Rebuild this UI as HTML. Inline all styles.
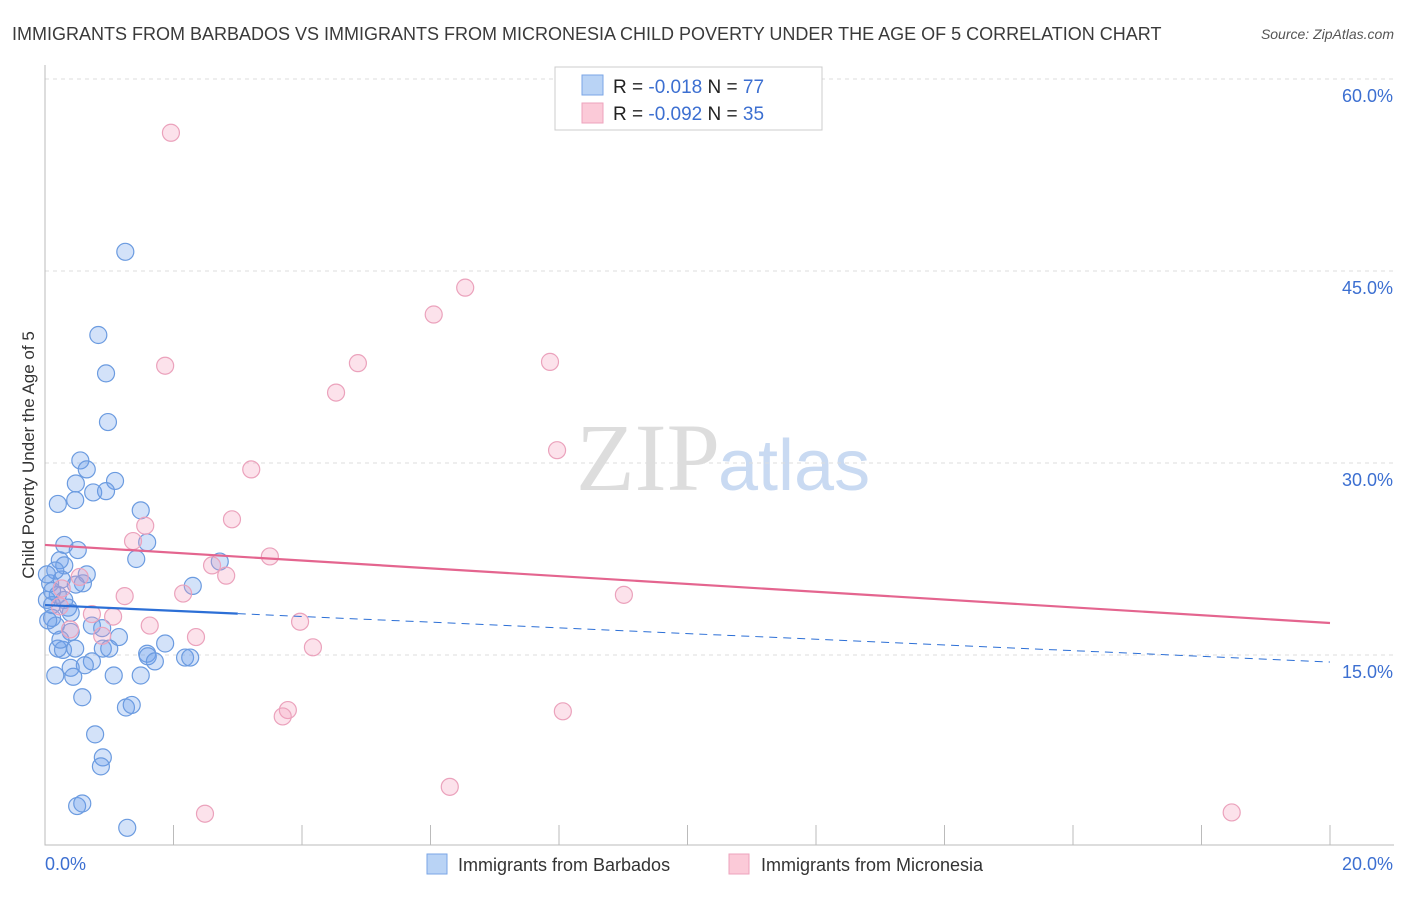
<!DOCTYPE html>
<html><head><meta charset="utf-8"><style>
body{margin:0;background:#fff;font-family:"Liberation Sans",sans-serif}
</style></head><body>
<svg width="1406" height="892" xmlns="http://www.w3.org/2000/svg">
<text x="12" y="40" font-size="18" fill="#3a3a3a">IMMIGRANTS FROM BARBADOS VS IMMIGRANTS FROM MICRONESIA CHILD POVERTY UNDER THE AGE OF 5 CORRELATION CHART</text>
<text x="1394" y="39" font-size="14" font-style="italic" fill="#555" text-anchor="end">Source: ZipAtlas.com</text>
<text x="720" y="490" font-size="96" font-family="Liberation Serif,serif" fill="#ddd" text-anchor="end">ZIP</text>
<text x="718" y="490" font-size="72" fill="#c9daf2">atlas</text>
<g id="grid"></g>
<g id="axes"></g>
<g id="marks"></g>
<text x="34" y="455" font-size="17" fill="#333" text-anchor="middle" transform="rotate(-90 34 455)">Child Poverty Under the Age of 5</text>
<g>
<rect x="555" y="67" width="267" height="63" fill="#fff" stroke="#ccc"/>
<rect x="582" y="75" width="21" height="20" fill="#b9d3f5" stroke="#7aa6e6"/>
<rect x="582" y="103" width="21" height="20" fill="#fbcad8" stroke="#eea3bd"/>
<text x="613" y="93" font-size="19" fill="#222">R =  <tspan fill="#3c6fd1">-0.018</tspan>   N = <tspan fill="#3c6fd1">77</tspan></text>
<text x="613" y="120" font-size="19" fill="#222">R = <tspan fill="#3c6fd1">-0.092</tspan>   N = <tspan fill="#3c6fd1">35</tspan></text>
</g>
<g>
<rect x="427" y="854" width="20" height="20" fill="#b9d3f5" stroke="#7aa6e6"/>
<text x="458" y="871" font-size="18" fill="#333">Immigrants from Barbados</text>
<rect x="729" y="854" width="20" height="20" fill="#fbcad8" stroke="#eea3bd"/>
<text x="761" y="871" font-size="18" fill="#333">Immigrants from Micronesia</text>
</g>
</svg>
<script>
const xTicks=[0,20];
const yTicks=[15,30,45,60];
const blueX=[1.25,0.83,0.95,0.98,0.55,0.65,0.48,1.09,0.2,0.47,0.75,0.95,1.49,1.59,0.51,1.42,2.72,0.23,0.3,0.65,2.3,0.59,0.48,0.08,0.26,0.2,0.11,0.36,0.4,0.3,0.11,0.17,0.4,0.73,0.89,1.15,1.87,0.9,1.0,0.2,0.28,0.47,1.59,1.6,1.71,2.18,2.26,0.73,0.62,0.4,0.16,0.44,1.07,1.49,0.58,1.26,1.35,0.78,0.9,0.87,0.5,0.58,1.28,0.03,0.05,0.16,0.3,0.24,0.03,0.11];
const blueY=[46.5,40.0,37.0,33.2,30.2,29.5,28.4,28.6,26.8,27.1,27.7,27.8,26.3,23.8,23.2,22.5,22.3,22.4,22.0,21.3,20.4,20.6,20.5,20.6,20.9,19.7,18.9,18.7,18.3,19.3,17.9,17.3,16.8,17.3,17.1,16.4,15.9,15.5,15.5,15.5,15.4,15.5,15.1,14.9,14.5,14.8,14.8,14.5,14.2,14.0,13.4,13.3,13.4,13.4,11.7,10.9,11.1,8.8,7.0,6.3,3.2,3.4,1.5,19.3,17.7,21.6,23.6,16.2,21.3,20.0];
const pinkX=[1.96,6.54,6.05,1.87,4.87,7.86,4.53,7.97,3.21,2.91,1.56,1.37,3.5,2.6,2.82,0.54,0.26,1.24,2.15,9.01,0.23,0.73,1.06,3.97,1.63,0.39,0.89,2.35,4.17,3.78,3.7,8.06,6.3,2.49,18.47];
const pinkY=[55.8,43.7,41.6,37.6,37.8,37.9,35.5,31.0,29.5,25.6,25.1,23.9,22.7,22.0,21.2,21.1,20.2,19.6,19.8,19.7,18.8,18.2,18.0,17.6,17.3,17.0,16.5,16.4,15.6,10.7,10.2,10.6,4.7,2.6,2.7];
const blueTrend=[18.9,-0.2225,3.0];
const pinkTrend=[23.6,-0.305];
const X=v=>45+v*64.25, Y=v=>847-v*12.8;
const NS="http://www.w3.org/2000/svg";
function mk(tag,attrs,parent){const e=document.createElementNS(NS,tag);for(const k in attrs)e.setAttribute(k,attrs[k]);document.getElementById(parent).appendChild(e);return e;}
yTicks.forEach(t=>{
 const l=mk('line',{x1:45,x2:1394,y1:Y(t),y2:Y(t),stroke:'#ddd','stroke-dasharray':'4,4'},'grid');
 
 
 const tx=mk('text',{x:1393,y:Y(t)+23,'font-size':18,fill:'#3c6fd1','text-anchor':'end'},'axes');
 tx.textContent=t.toFixed(1)+'%';
 
 
});
const ax=mk('path',{d:'M45 65V845H1394',stroke:'#bbb',fill:'none'},'axes');


for(let i=0;i<=10;i++){const t=mk('line',{x1:X(i*2),x2:X(i*2),y1:825,y2:845,stroke:'#bbb'},'axes');
 
 }
xTicks.forEach((t,i)=>{const tx=mk('text',{x:i?1393:45,y:870,'font-size':18,fill:'#3c6fd1','text-anchor':i?'end':'start'},'axes');
 tx.textContent=t.toFixed(1)+'%';
 
 });
blueX.forEach((x,i)=>{const c=mk('circle',{cx:X(x),cy:Y(blueY[i]),r:8.5,fill:'rgba(110,160,235,0.3)',stroke:'#6b9be0','stroke-width':1.2},'marks');
 
 });
pinkX.forEach((x,i)=>{const c=mk('circle',{cx:X(x),cy:Y(pinkY[i]),r:8.5,fill:'rgba(245,160,190,0.3)',stroke:'#eba2bc','stroke-width':1.2},'marks');
 
 });
const pl=mk('line',{x1:X(0),y1:Y(pinkTrend[0]),x2:X(20),y2:Y(pinkTrend[0]+pinkTrend[1]*20),stroke:'#e4658f','stroke-width':2.2},'marks');


const bs=mk('line',{x1:X(0),y1:Y(blueTrend[0]),x2:X(blueTrend[2]),y2:Y(blueTrend[0]+blueTrend[1]*blueTrend[2]),stroke:'#2c6fd6','stroke-width':2.2},'marks');


const bd=mk('line',{x1:X(blueTrend[2]),y1:Y(blueTrend[0]+blueTrend[1]*blueTrend[2]),x2:X(20),y2:Y(blueTrend[0]+blueTrend[1]*20),stroke:'#2c6fd6','stroke-width':1,'stroke-dasharray':'8,6'},'marks');


</script>
</body></html>
